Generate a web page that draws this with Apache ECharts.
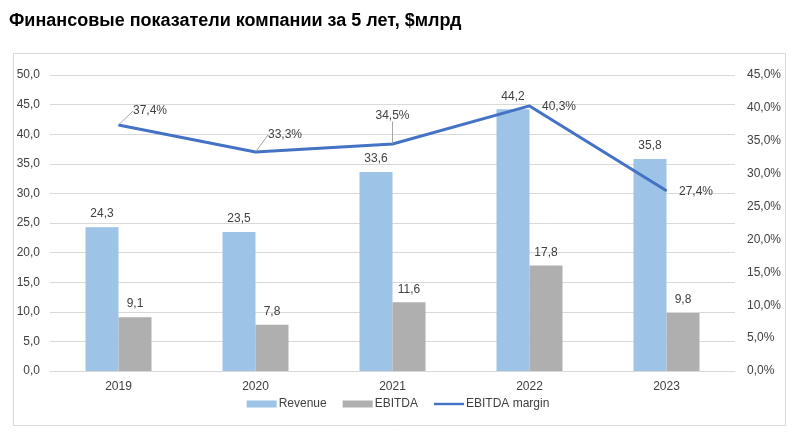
<!DOCTYPE html>
<html><head><meta charset="utf-8">
<script src="https://cdn.jsdelivr.net/npm/echarts@6/dist/echarts.min.js"></script>
<style>html,body{margin:0;padding:0;background:#fff}#c{width:796px;height:435px}</style>
</head><body><div id="c"></div>
<script>
const categories = ['2019','2020','2021','2022','2023'];
const revenue = [24.3, 23.5, 33.6, 44.2, 35.8];
const ebitda = [9.1, 7.8, 11.6, 17.8, 9.8];
const margin = [0.374, 0.333, 0.345, 0.403, 0.274];
const leftTicks = {min: 0, max: 50, interval: 5};
const rightTicks = {min: 0, max: 0.45, interval: 0.05};

const FONT = 'Liberation Sans';
const TXT = '#404040';
const comma = v => v.toFixed(1).replace('.', ',');

// per-point label placement for the margin line
const marginLabelCfg = [
  {pos: 'right', dx: 9, dy: -14, line: true},
  {pos: 'right', dx: 7, dy: -17, line: true},
  {pos: 'top', dx: 0, dy: -17, line: true},
  {pos: 'right', dx: 7, dy: 1, line: false},
  {pos: 'right', dx: 7, dy: 1, line: false}
];

const chart = echarts.init(document.getElementById('c'), null, {renderer: 'canvas'});
chart.setOption({
  animation: false,
  textStyle: {fontFamily: FONT},
  title: {
    text: 'Финансовые показатели компании за 5 лет, $млрд',
    left: 4, top: 7,
    textStyle: {fontFamily: FONT, fontWeight: 'bold', fontSize: 18, color: '#000'}
  },
  graphic: [{
    type: 'rect', left: 11, top: 51, silent: true,
    shape: {width: 772, height: 372},
    style: {fill: 'none', stroke: '#D9D9D9', lineWidth: 1}
  }],
  legend: {
    bottom: 20, left: 'center',
    itemWidth: 30, itemHeight: 7, itemGap: 16,
    textStyle: {fontFamily: FONT, fontSize: 12, color: TXT, padding: [0, 0, 0, -3]},
    data: [
      {name: 'Revenue', icon: 'rect'},
      {name: 'EBITDA', icon: 'rect'},
      {name: 'EBITDA margin', icon: 'path://M0,0 M0,2.3 L30,2.3 L30,4.7 L0,4.7 Z M30,7'}
    ]
  },
  grid: {left: 50, right: 61, top: 75, bottom: 64},
  xAxis: {
    type: 'category', data: categories,
    axisLine: {lineStyle: {color: '#D9D9D9'}},
    axisTick: {show: false},
    axisLabel: {fontFamily: FONT, fontSize: 12, color: TXT, margin: 10}
  },
  yAxis: [{
    type: 'value', min: leftTicks.min, max: leftTicks.max, interval: leftTicks.interval,
    axisLine: {show: false}, axisTick: {show: false},
    splitLine: {lineStyle: {color: '#D9D9D9'}},
    axisLabel: {fontFamily: FONT, fontSize: 12, color: TXT, margin: 10, formatter: v => comma(v)}
  }, {
    type: 'value', min: rightTicks.min, max: rightTicks.max, interval: rightTicks.interval,
    axisLine: {show: false}, axisTick: {show: false},
    splitLine: {show: false},
    axisLabel: {fontFamily: FONT, fontSize: 12, color: TXT, margin: 12, formatter: v => comma(v * 100) + '%'}
  }],
  series: [{
    name: 'Revenue', type: 'bar', data: revenue, barWidth: 33, barGap: '0%',
    itemStyle: {color: '#9DC3E6'},
    label: {show: true, position: 'top', distance: 7, fontFamily: FONT, fontSize: 12, color: TXT, formatter: p => comma(p.value)}
  }, {
    name: 'EBITDA', type: 'bar', data: ebitda, barWidth: 33,
    itemStyle: {color: '#AFAFAF'},
    label: {show: true, position: 'top', distance: 7, fontFamily: FONT, fontSize: 12, color: TXT, formatter: p => comma(p.value)}
  }, {
    name: 'EBITDA margin', type: 'line', yAxisIndex: 1,
    data: margin.map((v, i) => ({
      value: v,
      label: {position: marginLabelCfg[i].pos},
      labelLine: {show: marginLabelCfg[i].line}
    })),
    symbol: 'circle', symbolSize: 1, showSymbol: true,
    lineStyle: {color: '#4472C4', width: 3},
    itemStyle: {color: '#4472C4'},
    label: {show: true, fontFamily: FONT, fontSize: 12, color: TXT, distance: 5,
      formatter: p => comma(p.value * 100) + '%'},
    labelLine: {show: true, lineStyle: {color: '#A6A6A6', width: 1}},
    labelLayout: p => ({dx: marginLabelCfg[p.dataIndex].dx, dy: marginLabelCfg[p.dataIndex].dy}),
    z: 5
  }]
});
</script></body></html>
